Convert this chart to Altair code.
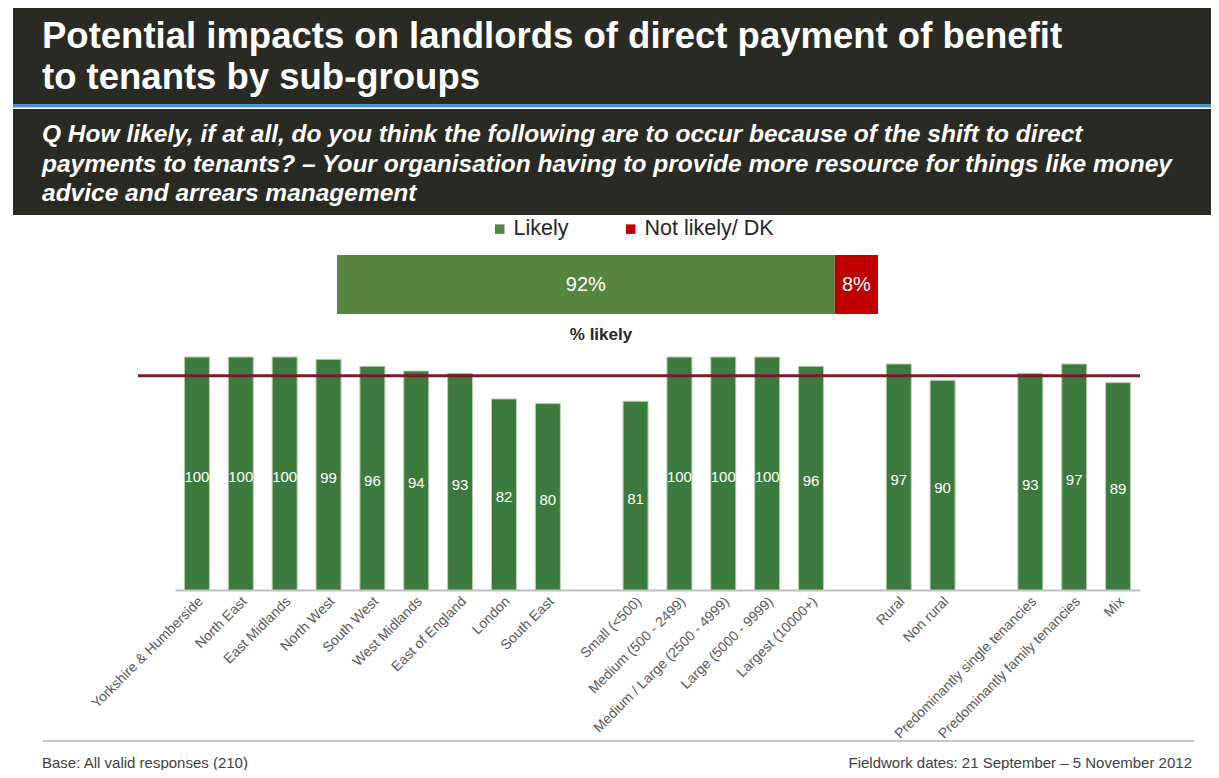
import altair as alt
import pandas as pd

# ---------------- data ----------------
region_labels = ["Yorkshire & Humberside", "North East", "East Midlands", "North West",
                 "South West", "West Midlands", "East of England", "London", "South East"]
region_values = [100, 100, 100, 99, 96, 94, 93, 82, 80]

size_labels = ["Small (<500)", "Medium (500 - 2499)", "Medium / Large (2500 - 4999)",
               "Large (5000 - 9999)", "Largest (10000+)"]
size_values = [81, 100, 100, 100, 96]

area_labels = ["Rural", "Non rural"]
area_values = [97, 90]

tenancy_labels = ["Predominantly single tenancies", "Predominantly family tenancies", "Mix"]
tenancy_values = [93, 97, 89]

overall_labels = ["Likely", "Not likely/ DK"]
overall_values = [92, 8]

average_likely = 92

title_text = "Potential impacts on landlords of direct payment of benefit\nto tenants by sub-groups"
question_text = ("Q How likely, if at all, do you think the following are to occur because of the shift to direct\n"
                 "payments to tenants? \u2013 Your organisation having to provide more resource for things like money\n"
                 "advice and arrears management")
base_text = "Base: All valid responses (210)"
fieldwork_text = "Fieldwork dates: 21 September \u2013 5 November 2012"
panel_title = "% likely"

# ---------------- tables ----------------
gaps = [" ", "  ", "   "]
slots = region_labels + [gaps[0]] + size_labels + [gaps[1]] + area_labels + [gaps[2]] + tenancy_labels
bar_cats = region_labels + size_labels + area_labels + tenancy_labels
bar_vals = region_values + size_values + area_values + tenancy_values
bars_df = pd.DataFrame({"category": bar_cats, "value": bar_vals})
bars_df["mid"] = bars_df["value"] / 2
bars_df["label"] = bars_df["value"].astype(str)

overall_df = pd.DataFrame({"cat": overall_labels, "value": overall_values})
overall_df["end"] = overall_df["value"].cumsum()
overall_df["start"] = overall_df["end"] - overall_df["value"]
overall_df["mid"] = (overall_df["start"] + overall_df["end"]) / 2
overall_df["label"] = overall_df["value"].astype(str) + "%"

avg_df = pd.DataFrame({"v": [average_likely]})
one = pd.DataFrame({"a": [0]})

W, H = 1203, 762
FONT = "Liberation Sans"
DARK = "#2a2a25"

xs = alt.Scale(domain=slots, range=[167, 1132], paddingInner=0.43, paddingOuter=0.215)
ys = alt.Scale(domain=[0, 100], range=[582, 349])
xs_top = alt.Scale(domain=[0, 100], range=[329, 870])

# ---------------- header ----------------
box1 = alt.Chart(one).mark_rect(color=DARK).encode(
    x=alt.value(5), x2=alt.value(W), y=alt.value(0), y2=alt.value(96))
blue = alt.Chart(one).mark_rect(color="#4f8fcc").encode(
    x=alt.value(5), x2=alt.value(W), y=alt.value(96), y2=alt.value(99))
blue2 = alt.Chart(one).mark_rect(color="#a9cbe8").encode(
    x=alt.value(5), x2=alt.value(W), y=alt.value(99), y2=alt.value(100))
box2 = alt.Chart(one).mark_rect(color=DARK).encode(
    x=alt.value(5), x2=alt.value(W), y=alt.value(101), y2=alt.value(207))

title = alt.Chart(one).mark_text(
    align="left", baseline="alphabetic", color="white", fontSize=36.5, fontWeight="bold",
    font=FONT, lineBreak="\n", lineHeight=41
).encode(x=alt.value(34), y=alt.value(40), text=alt.value(title_text))

question = alt.Chart(one).mark_text(
    align="left", baseline="alphabetic", color="white", fontSize=24.5, fontWeight="bold",
    fontStyle="italic", font=FONT, lineBreak="\n", lineHeight=29.5
).encode(x=alt.value(34), y=alt.value(134), text=alt.value(question_text))

# ---------------- overall stacked bar ----------------
top_bar = alt.Chart(overall_df).mark_bar().encode(
    x=alt.X("start:Q", scale=xs_top, axis=None),
    x2="end:Q",
    y=alt.value(247), y2=alt.value(306),
    color=alt.Color("cat:N", scale=alt.Scale(domain=overall_labels, range=["#568540", "#c00000"]),
                    legend=alt.Legend(orient="none", legendX=481, legendY=210, direction="horizontal",
                                      title=None, symbolType="square", symbolSize=90,
                                      symbolStrokeWidth=0, labelFontSize=21.5, labelColor="#262626",
                                      labelFont=FONT, columnPadding=51, labelOffset=3)),
)
top_text = alt.Chart(overall_df).mark_text(color="white", fontSize=20, font=FONT, baseline="middle").encode(
    x=alt.X("mid:Q", scale=xs_top, axis=None),
    y=alt.value(277),
    text="label:N",
)

panel = alt.Chart(one).mark_text(fontSize=17, fontWeight="bold", color="#262626", font=FONT,
                                 baseline="middle").encode(
    x=alt.value(593), y=alt.value(327), text=alt.value(panel_title))

# ---------------- main bars ----------------
bars = alt.Chart(bars_df).mark_bar(color="#3d7a3d", stroke="#b9d1b3", strokeWidth=1).encode(
    x=alt.X("category:N", scale=xs,
            axis=alt.Axis(title=None, offset=-(H - 582), labelAngle=315, labelAlign="right",
                          labelBaseline="middle", labelFontSize=14, labelColor="#595959",
                          labelFont=FONT, labelPadding=9, labelOffset=4, ticks=False,
                          domainColor="#bfbfbf", domainWidth=2, labelOverlap=False, labelLimit=300)),
    y=alt.Y("value:Q", scale=ys, axis=None),
)
avg_rule = alt.Chart(avg_df).mark_rule(color="#7b1a2b", strokeWidth=3).encode(
    y=alt.Y("v:Q", scale=ys, axis=None), x=alt.value(130), x2=alt.value(1132))
bar_text = alt.Chart(bars_df).mark_text(color="white", fontSize=15, font=FONT, baseline="middle",
                                        dy=3).encode(
    x=alt.X("category:N", scale=xs, axis=None),
    y=alt.Y("mid:Q", scale=ys, axis=None),
    text="label:N",
)

# ---------------- footer ----------------
foot_line = alt.Chart(one).mark_rule(color="#c8c8c8", strokeWidth=2).encode(
    x=alt.value(35), x2=alt.value(1186), y=alt.value(733))
foot_left = alt.Chart(one).mark_text(align="left", baseline="middle", fontSize=15, color="#404040",
                                     font=FONT).encode(x=alt.value(34), y=alt.value(755),
                                                       text=alt.value(base_text))
foot_right = alt.Chart(one).mark_text(align="right", baseline="middle", fontSize=15, color="#404040",
                                      font=FONT).encode(x=alt.value(1184), y=alt.value(755),
                                                        text=alt.value(fieldwork_text))

chart = alt.layer(
    box1, blue, blue2, box2, title, question,
    top_bar, top_text, panel,
    bars, avg_rule, bar_text,
    foot_line, foot_left, foot_right,
).resolve_scale(x="independent").properties(
    width=W, height=H, autosize="none", padding=0
).configure(font=FONT).configure_view(stroke=None)

chart.save("out.html", embed_options={"renderer": "svg", "actions": False})
